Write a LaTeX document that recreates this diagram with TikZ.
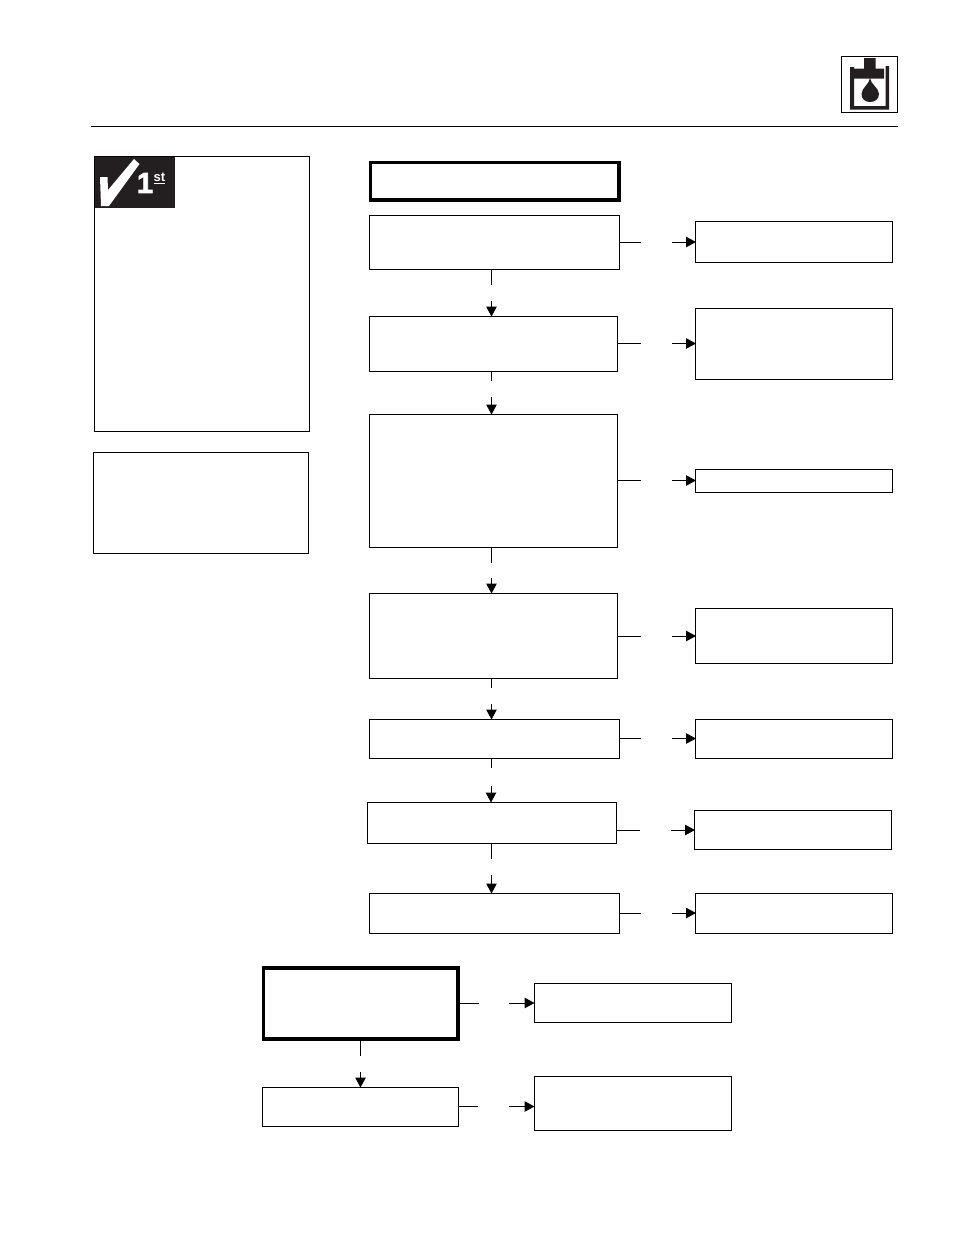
\documentclass[tikz,border=0pt]{standalone}
\usepackage{fontspec}
\setsansfont{Liberation Sans}
\newfontfamily\logofont[FakeBold=2.5]{Liberation Sans Bold}
\usepackage{xcolor}
\usetikzlibrary{arrows.meta}
\definecolor{inkdark}{HTML}{231F20}
\tikzset{
  flowbox/.style={rectangle,draw,line width=1pt,inner sep=0pt},
  headbox/.style={rectangle,draw,line width=3.5pt,inner sep=0pt},
  sidebox/.style={rectangle,draw,line width=0.8pt,inner sep=0pt},
  link/.style={line width=1pt},
  linktip/.style={line width=1pt,shorten >=-1pt,-{Triangle[length=10pt,width=10.5pt]}}
}

\begin{document}
\begin{tikzpicture}[x=1pt,y=-1pt]
  \useasboundingbox (0,0) rectangle (954,1235);
  \fill[white] (0,0) rectangle (954,1235);
  % header
  \node[sidebox,minimum width=56pt,minimum height=56pt] (iconframe) at (869,84) {};
  \fill[inkdark] (850,67) -- (854,67) -- (854,106) -- (885.5,106) -- (885.5,66) -- (889,66) -- (889,109.5) -- (850,109.5) -- cycle;
  \fill[inkdark] (864,58) -- (875.5,58) -- (875.5,68.5) -- (884,68.5) -- (884,78.5) -- (854,78.5) -- (854,68.5) -- (864,68.5) -- cycle;
  \fill[inkdark] (870,78) .. controls (870.5,84) and (879,88) .. (879,94) .. controls (879,99) and (875,102) .. (870,102) .. controls (865,102) and (861.5,99) .. (861.5,94) .. controls (861.5,88) and (869.5,84) .. (870,78) -- cycle;
  \coordinate (rulea) at (91,126.5);
  \coordinate (ruleb) at (897.5,126.5);
  \draw[line width=0.8pt] (rulea) -- (ruleb);
  % side panels
  \node[sidebox,minimum width=215pt,minimum height=275pt] (panela) at (201.5,293.5) {};
  \node[sidebox,minimum width=215pt,minimum height=101pt] (panelb) at (200.5,502.5) {};
  \fill[inkdark] (94.5,156.5) rectangle (175,208);
  \fill[white] (100,177) -- (107.5,177) -- (108,190) -- (134,159) -- (139.5,164) -- (109,206) -- (101,206) -- cycle;
  \node[inner sep=0pt,text=white,font=\logofont\fontsize{29}{29}\selectfont] (logoone) at (145,183) {1};
  \node[inner sep=0pt,text=white,font=\sffamily\bfseries\fontsize{13}{13}\selectfont] (logost) at (159.5,178) {\underline{st}};
  % main column
  \node[headbox,minimum width=248.5pt,minimum height=37.5pt] (head) at (494.5,181) {};
  \node[flowbox,minimum width=250pt,minimum height=54pt] (t1) at (494.5,242) {};
  \node[flowbox,minimum width=248pt,minimum height=55pt] (t2) at (493.5,343.5) {};
  \node[flowbox,minimum width=248pt,minimum height=133pt] (t3) at (493.5,480.5) {};
  \node[flowbox,minimum width=248pt,minimum height=85pt] (t4) at (493.5,635.5) {};
  \node[flowbox,minimum width=250pt,minimum height=39pt] (t5) at (494.5,738.5) {};
  \node[flowbox,minimum width=249pt,minimum height=41pt] (t6) at (492,822.5) {};
  \node[flowbox,minimum width=250pt,minimum height=40pt] (t7) at (494.5,913) {};
  % result column
  \node[flowbox,minimum width=197pt,minimum height=41pt] (r1) at (794,241.5) {};
  \node[flowbox,minimum width=197pt,minimum height=71pt] (r2) at (794,343.5) {};
  \node[flowbox,minimum width=197pt,minimum height=23pt] (r3) at (794,480.5) {};
  \node[flowbox,minimum width=197pt,minimum height=55pt] (r4) at (794,635.5) {};
  \node[flowbox,minimum width=197pt,minimum height=39pt] (r5) at (794,738.5) {};
  \node[flowbox,minimum width=197pt,minimum height=39pt] (r6) at (793,829.5) {};
  \node[flowbox,minimum width=197pt,minimum height=40pt] (r7) at (794,913) {};
  % bottom group
  \node[headbox,minimum width=194.5pt,minimum height=71pt] (b1) at (360.5,1003.5) {};
  \node[flowbox,minimum width=196pt,minimum height=39pt] (b2) at (360,1106.5) {};
  \node[flowbox,minimum width=197pt,minimum height=39pt] (r8) at (632.5,1002.5) {};
  \node[flowbox,minimum width=197pt,minimum height=54pt] (r9) at (632.5,1103) {};
  % links down
  \coordinate (d1a) at (491.5,285); \coordinate (d1b) at (491.5,301);
  \coordinate (d2a) at (491.5,381); \coordinate (d2b) at (491.5,397);
  \coordinate (d3a) at (491.5,563); \coordinate (d3b) at (491.5,578);
  \coordinate (d4a) at (491.5,688); \coordinate (d4b) at (491.5,704);
  \coordinate (d5a) at (491,768); \coordinate (d5b) at (491,786);
  \coordinate (d6a) at (491.5,859); \coordinate (d6b) at (491.5,875);
  \coordinate (d7a) at (360.5,1056); \coordinate (d7b) at (360.5,1072);
  \draw[link] (d1a |- t1.south) -- (d1a);
  \draw[linktip] (d1b) -- (d1b |- t2.north);
  \draw[link] (d2a |- t2.south) -- (d2a);
  \draw[linktip] (d2b) -- (d2b |- t3.north);
  \draw[link] (d3a |- t3.south) -- (d3a);
  \draw[linktip] (d3b) -- (d3b |- t4.north);
  \draw[link] (d4a |- t4.south) -- (d4a);
  \draw[linktip] (d4b) -- (d4b |- t5.north);
  \draw[link] (d5a |- t5.south) -- (d5a);
  \draw[linktip] (d5b) -- (d5b |- t6.north);
  \draw[link] (d6a |- t6.south) -- (d6a);
  \draw[linktip] (d6b) -- (d6b |- t7.north);
  \draw[link] (d7a |- b1.south) -- (d7a);
  \draw[linktip] (d7b) -- (d7b |- b2.north);
  % links across
  \coordinate (h1a) at (641,242); \coordinate (h1b) at (672,242);
  \coordinate (h2a) at (641,343.5); \coordinate (h2b) at (672,343.5);
  \coordinate (h3a) at (641,480.5); \coordinate (h3b) at (672,480.5);
  \coordinate (h4a) at (641,636); \coordinate (h4b) at (672,636);
  \coordinate (h5a) at (641,738.5); \coordinate (h5b) at (672,738.5);
  \coordinate (h6a) at (640,830); \coordinate (h6b) at (671,830);
  \coordinate (h7a) at (641,913); \coordinate (h7b) at (672,913);
  \coordinate (h8a) at (479,1003); \coordinate (h8b) at (509,1003);
  \coordinate (h9a) at (478,1106.5); \coordinate (h9b) at (509,1106.5);
  \draw[link] (h1a -| t1.east) -- (h1a);
  \draw[linktip] (h1b) -- (h1b -| r1.west);
  \draw[link] (h2a -| t2.east) -- (h2a);
  \draw[linktip] (h2b) -- (h2b -| r2.west);
  \draw[link] (h3a -| t3.east) -- (h3a);
  \draw[linktip] (h3b) -- (h3b -| r3.west);
  \draw[link] (h4a -| t4.east) -- (h4a);
  \draw[linktip] (h4b) -- (h4b -| r4.west);
  \draw[link] (h5a -| t5.east) -- (h5a);
  \draw[linktip] (h5b) -- (h5b -| r5.west);
  \draw[link] (h6a -| t6.east) -- (h6a);
  \draw[linktip] (h6b) -- (h6b -| r6.west);
  \draw[link] (h7a -| t7.east) -- (h7a);
  \draw[linktip] (h7b) -- (h7b -| r7.west);
  \draw[link] (h8a -| b1.east) -- (h8a);
  \draw[linktip] (h8b) -- (h8b -| r8.west);
  \draw[link] (h9a -| b2.east) -- (h9a);
  \draw[linktip] (h9b) -- (h9b -| r9.west);
\end{tikzpicture}
\end{document}
